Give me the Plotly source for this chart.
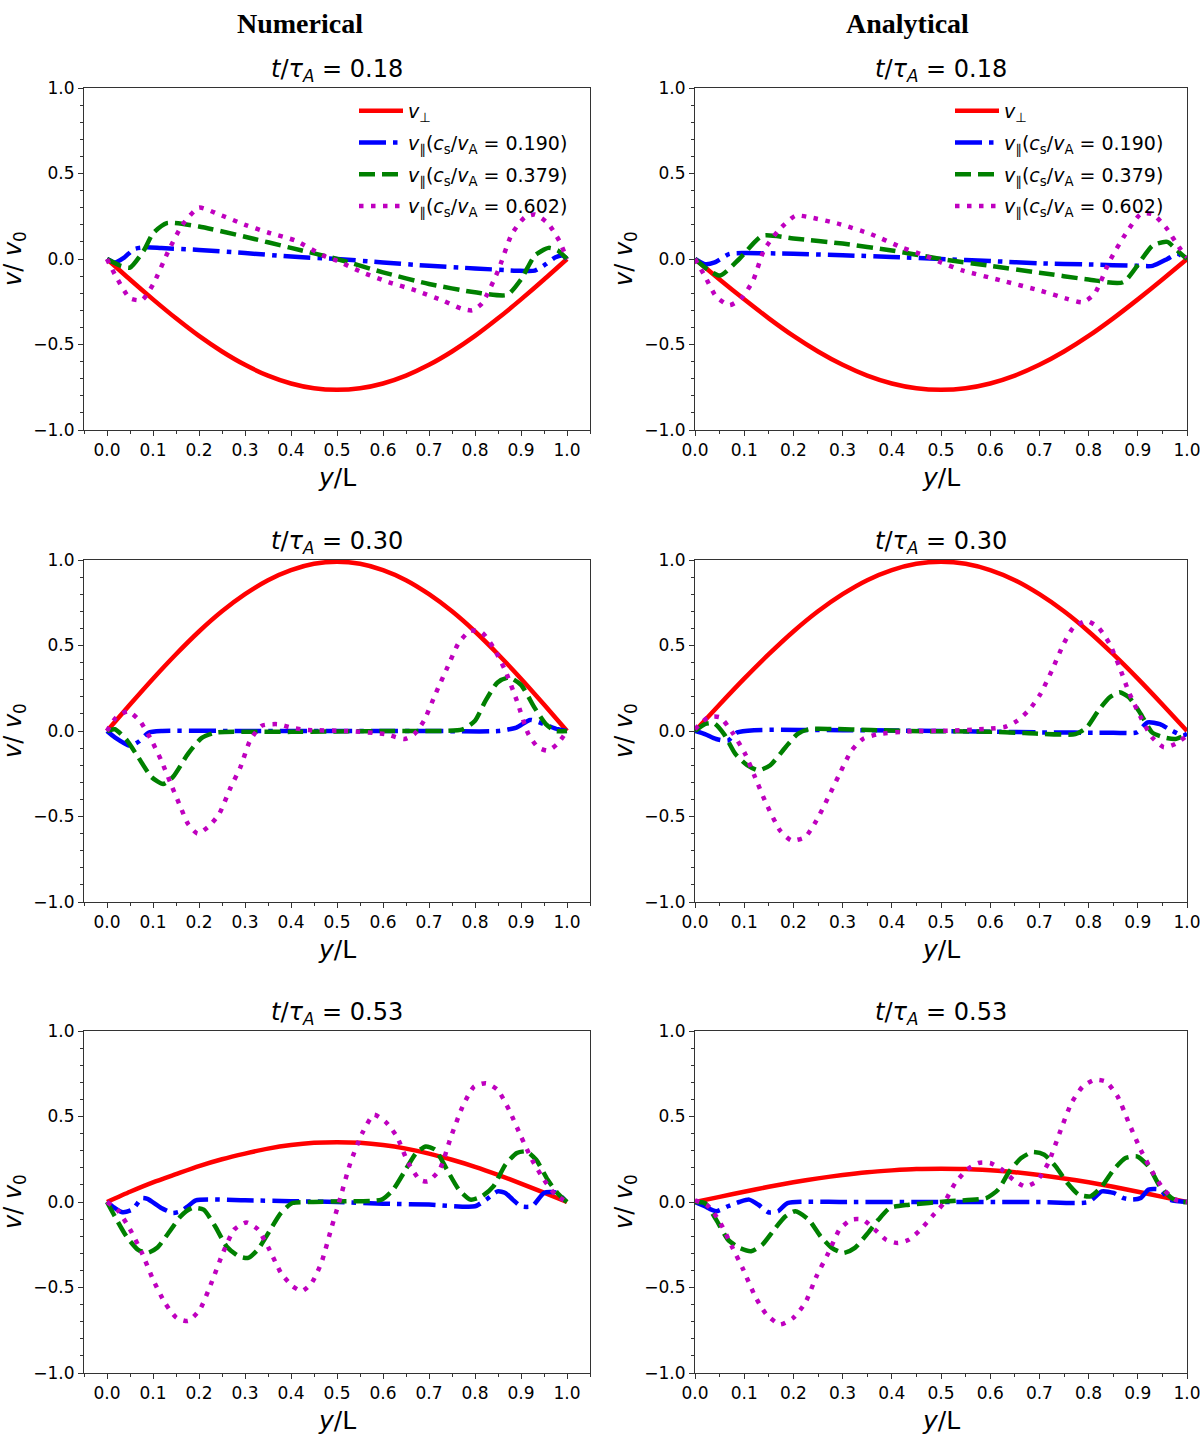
import plotly.graph_objects as go

# ---- valeurs (y/L -> v/v0) ----

# v_perp : grille commune 0.05
X_PERP = [0.0, 0.05, 0.1, 0.15, 0.2, 0.25, 0.3, 0.35, 0.4, 0.45, 0.5,
          0.55, 0.6, 0.65, 0.7, 0.75, 0.8, 0.85, 0.9, 0.95, 1.0]
PERP_018 = [0.0, -0.12, -0.236, -0.347, -0.45, -0.541, -0.619, -0.682, -0.728, -0.756, -0.765,
            -0.756, -0.728, -0.682, -0.619, -0.541, -0.45, -0.347, -0.236, -0.12, 0.0]
PERP_030 = [0.0, 0.155, 0.306, 0.449, 0.582, 0.70, 0.80, 0.882, 0.941, 0.978, 0.99,
            0.978, 0.941, 0.882, 0.80, 0.70, 0.582, 0.449, 0.306, 0.155, 0.0]
PERP_053_NUM = [0.0, 0.06, 0.115, 0.163, 0.21, 0.25, 0.283, 0.312, 0.333, 0.346, 0.35,
                0.346, 0.333, 0.312, 0.283, 0.247, 0.206, 0.159, 0.108, 0.055, 0.0]
PERP_053_ANA = [0.0, 0.03, 0.06, 0.089, 0.115, 0.138, 0.158, 0.174, 0.185, 0.193, 0.195,
                0.193, 0.185, 0.174, 0.158, 0.138, 0.115, 0.089, 0.06, 0.03, 0.0]

# t = 0.18, numerique
B_X_018N = [0.0, 0.017, 0.038, 0.059, 0.084, 0.118, 0.2, 0.3, 0.4, 0.5, 0.6, 0.7, 0.8, 0.89, 0.93, 0.954, 0.975, 0.99, 1.0]
B_Y_018N = [0.0, -0.02, 0.01, 0.058, 0.068, 0.064, 0.053, 0.035, 0.014, 0.0, -0.02, -0.04, -0.055, -0.068, -0.068, -0.03, 0.01, 0.02, 0.0]
G_X_018N = [0.0, 0.03, 0.05, 0.08, 0.1, 0.13, 0.2, 0.3, 0.4, 0.5, 0.6, 0.7, 0.8, 0.87, 0.9, 0.93, 0.96, 0.98, 1.0]
G_Y_018N = [0.0, -0.04, -0.05, 0.05, 0.15, 0.21, 0.19, 0.13, 0.065, 0.0, -0.078, -0.146, -0.195, -0.21, -0.12, 0.02, 0.065, 0.05, 0.0]
M_X_018N = [0.0, 0.017, 0.05, 0.076, 0.1, 0.134, 0.164, 0.2, 0.244, 0.3, 0.35, 0.41, 0.47, 0.5, 0.555, 0.613,
            0.672, 0.73, 0.77, 0.794, 0.815, 0.85, 0.88, 0.908, 0.93, 0.958, 0.983, 1.0]
M_Y_018N = [0.0, -0.09, -0.23, -0.24, -0.15, 0.05, 0.2, 0.3, 0.26, 0.2, 0.155, 0.107, 0.02, -0.01, -0.078, -0.136,
            -0.185, -0.243, -0.29, -0.30, -0.26, -0.07, 0.146, 0.243, 0.26, 0.21, 0.107, 0.0]

# t = 0.18, analytique
B_X_018A = [0.0, 0.02, 0.04, 0.07, 0.1, 0.2, 0.3, 0.4, 0.5, 0.6, 0.7, 0.8, 0.9, 0.93, 0.96, 0.98, 1.0]
B_Y_018A = [0.0, -0.03, -0.02, 0.03, 0.035, 0.03, 0.022, 0.012, 0.0, -0.012, -0.025, -0.032, -0.04, -0.04, 0.0, 0.03, 0.0]
G_X_018A = [0.0, 0.025, 0.051, 0.09, 0.137, 0.2, 0.3, 0.4, 0.5, 0.6, 0.7, 0.8, 0.87, 0.93, 0.96, 0.98, 1.0]
G_Y_018A = [0.0, -0.06, -0.097, 0.0, 0.136, 0.12, 0.09, 0.05, 0.0, -0.04, -0.08, -0.12, -0.136, 0.078, 0.1, 0.05, 0.0]
M_X_018A = [0.0, 0.02, 0.043, 0.07, 0.094, 0.118, 0.14, 0.169, 0.204, 0.235, 0.294, 0.357, 0.42, 0.467, 0.5, 0.545,
            0.623, 0.702, 0.757, 0.788, 0.812, 0.843, 0.875, 0.906, 0.93, 0.957, 0.984, 1.0]
M_Y_018A = [0.0, -0.1, -0.22, -0.27, -0.23, -0.126, 0.05, 0.165, 0.253, 0.243, 0.204, 0.146, 0.068, 0.02, -0.02, -0.068,
            -0.126, -0.185, -0.233, -0.253, -0.204, -0.01, 0.146, 0.263, 0.263, 0.185, 0.068, 0.01]

# t = 0.30, numerique
B_X_030N = [0.0, 0.017, 0.05, 0.07, 0.09, 0.12, 0.3, 0.5, 0.7, 0.85, 0.89, 0.92, 0.95, 0.98, 1.0]
B_Y_030N = [0.0, -0.037, -0.086, -0.06, -0.01, 0.0, 0.0, 0.0, 0.0, 0.0, 0.02, 0.065, 0.04, 0.01, 0.0]
G_X_030N = [0.0, 0.017, 0.042, 0.067, 0.097, 0.122, 0.143, 0.176, 0.206, 0.235, 0.4, 0.6, 0.773, 0.8, 0.823,
            0.849, 0.874, 0.9, 0.929, 0.954, 0.975, 1.0]
G_Y_030N = [0.0, 0.01, -0.05, -0.15, -0.27, -0.31, -0.27, -0.134, -0.04, -0.01, -0.005, 0.0, 0.01, 0.06, 0.177,
            0.284, 0.313, 0.27, 0.138, 0.04, 0.0, 0.0]
M_X_030N = [0.0, 0.02, 0.046, 0.071, 0.097, 0.118, 0.139, 0.16, 0.176, 0.197, 0.223, 0.244, 0.269, 0.29, 0.311,
            0.336, 0.37, 0.403, 0.437, 0.52, 0.605, 0.647, 0.668, 0.689, 0.714, 0.74, 0.765, 0.79, 0.815, 0.84,
            0.866, 0.891, 0.916, 0.937, 0.958, 0.979, 1.0]
M_Y_030N = [0.0, 0.08, 0.115, 0.06, -0.056, -0.173, -0.31, -0.445, -0.543, -0.6, -0.553, -0.484, -0.329, -0.212, -0.056,
            0.03, 0.04, 0.018, 0.006, 0.0, -0.018, -0.047, -0.018, 0.06, 0.216, 0.372, 0.517, 0.586, 0.576, 0.488,
            0.352, 0.177, -0.018, -0.095, -0.115, -0.076, 0.0]

# t = 0.30, analytique
B_X_030A = [0.0, 0.02, 0.043, 0.067, 0.086, 0.12, 0.3, 0.5, 0.7, 0.85, 0.898, 0.92, 0.945, 0.969, 0.992, 1.0]
B_Y_030A = [0.0, -0.018, -0.047, -0.056, -0.008, 0.005, 0.005, 0.0, -0.008, -0.01, -0.008, 0.05, 0.04, 0.002, -0.027, -0.015]
G_X_030A = [0.0, 0.02, 0.039, 0.059, 0.082, 0.106, 0.129, 0.153, 0.184, 0.208, 0.231, 0.278, 0.357, 0.435, 0.592,
            0.67, 0.773, 0.796, 0.82, 0.843, 0.863, 0.882, 0.906, 0.929, 0.953, 0.976, 1.0]
G_Y_030A = [0.0, 0.04, 0.045, -0.018, -0.134, -0.2, -0.23, -0.2, -0.095, -0.018, 0.01, 0.012, 0.006, 0.0, -0.004,
            -0.012, -0.018, 0.02, 0.12, 0.197, 0.226, 0.197, 0.1, -0.008, -0.037, -0.047, -0.02]
M_X_030A = [0.0, 0.027, 0.051, 0.078, 0.102, 0.122, 0.145, 0.173, 0.196, 0.224, 0.247, 0.271, 0.294, 0.318, 0.341,
            0.373, 0.435, 0.514, 0.592, 0.631, 0.655, 0.678, 0.702, 0.725, 0.749, 0.769, 0.796, 0.82, 0.843, 0.863,
            0.882, 0.906, 0.929, 0.953, 0.976, 1.0]
M_Y_030A = [0.01, 0.08, 0.08, -0.018, -0.134, -0.27, -0.426, -0.582, -0.64, -0.62, -0.523, -0.387, -0.25, -0.115, -0.047,
            -0.018, -0.002, 0.002, 0.012, 0.025, 0.06, 0.12, 0.216, 0.352, 0.508, 0.605, 0.644, 0.605, 0.508, 0.372,
            0.226, 0.08, -0.037, -0.095, -0.076, -0.027]

# t = 0.53, numerique
B_X_053N = [0.0, 0.017, 0.034, 0.055, 0.076, 0.088, 0.118, 0.143, 0.16, 0.176, 0.193, 0.3, 0.4, 0.5, 0.6, 0.7, 0.8,
            0.824, 0.849, 0.866, 0.882, 0.9, 0.924, 0.95, 0.975, 0.996, 1.0]
B_Y_053N = [0.0, -0.035, -0.06, -0.045, 0.023, 0.018, -0.035, -0.064, -0.054, -0.025, 0.01, 0.01, 0.005, 0.0, -0.01,
            -0.015, -0.025, 0.014, 0.062, 0.053, 0.014, -0.025, -0.025, 0.053, 0.056, 0.01, 0.0]
G_X_053N = [0.0, 0.017, 0.042, 0.067, 0.088, 0.109, 0.134, 0.16, 0.185, 0.21, 0.235, 0.26, 0.286, 0.307, 0.328, 0.353,
            0.378, 0.403, 0.437, 0.52, 0.597, 0.622, 0.647, 0.672, 0.693, 0.714, 0.739, 0.765, 0.79, 0.815, 0.84,
            0.866, 0.891, 0.912, 0.933, 0.958, 0.979, 1.0]
G_Y_053N = [0.0, -0.084, -0.2, -0.278, -0.298, -0.268, -0.18, -0.084, -0.035, -0.045, -0.142, -0.26, -0.317, -0.327,
            -0.278, -0.171, -0.064, -0.006, 0.0, 0.004, 0.014, 0.072, 0.179, 0.286, 0.325, 0.305, 0.189, 0.072, 0.014,
            0.033, 0.091, 0.218, 0.286, 0.296, 0.247, 0.13, 0.053, 0.0]
M_X_053N = [0.0, 0.025, 0.05, 0.076, 0.1, 0.126, 0.151, 0.176, 0.202, 0.227, 0.252, 0.277, 0.303, 0.328, 0.353, 0.378,
            0.403, 0.424, 0.445, 0.466, 0.487, 0.504, 0.529, 0.555, 0.58, 0.605, 0.63, 0.655, 0.68, 0.697, 0.723, 0.748,
            0.773, 0.798, 0.824, 0.849, 0.874, 0.9, 0.924, 0.95, 0.975, 1.0]
M_Y_053N = [0.0, -0.054, -0.16, -0.298, -0.453, -0.59, -0.677, -0.696, -0.628, -0.473, -0.298, -0.16, -0.12, -0.16,
            -0.278, -0.414, -0.492, -0.521, -0.473, -0.356, -0.16, -0.006, 0.228, 0.403, 0.51, 0.47, 0.383, 0.228,
            0.13, 0.12, 0.189, 0.383, 0.558, 0.675, 0.695, 0.656, 0.539, 0.383, 0.247, 0.13, 0.043, 0.0]

# t = 0.53, analytique
B_X_053A = [0.0, 0.02, 0.043, 0.067, 0.09, 0.11, 0.129, 0.149, 0.169, 0.188, 0.3, 0.5, 0.7, 0.8, 0.827, 0.851, 0.871,
            0.89, 0.906, 0.922, 0.945, 0.965, 1.0]
B_Y_053A = [0.0, -0.025, -0.054, -0.025, 0.0, 0.014, -0.016, -0.06, -0.054, -0.006, 0.0, 0.0, 0.0, 0.0, 0.062, 0.053,
            0.023, 0.014, 0.023, 0.072, 0.072, 0.014, 0.0]
G_X_053A = [0.0, 0.02, 0.043, 0.067, 0.09, 0.114, 0.137, 0.161, 0.184, 0.204, 0.231, 0.255, 0.278, 0.302, 0.325, 0.349,
            0.373, 0.396, 0.435, 0.514, 0.592, 0.616, 0.639, 0.663, 0.686, 0.71, 0.733, 0.757, 0.78, 0.804, 0.827,
            0.851, 0.875, 0.898, 0.922, 0.945, 0.969, 0.988, 1.0]
G_Y_053A = [0.0, -0.006, -0.103, -0.22, -0.268, -0.288, -0.249, -0.161, -0.084, -0.054, -0.103, -0.2, -0.268, -0.298,
            -0.268, -0.19, -0.103, -0.035, -0.016, 0.004, 0.023, 0.072, 0.179, 0.257, 0.292, 0.276, 0.208, 0.111, 0.043,
            0.033, 0.091, 0.189, 0.257, 0.267, 0.208, 0.091, 0.023, 0.0, 0.0]
M_X_053A = [0.0, 0.027, 0.051, 0.075, 0.098, 0.122, 0.145, 0.173, 0.2, 0.224, 0.247, 0.271, 0.294, 0.318, 0.341, 0.365,
            0.388, 0.412, 0.435, 0.459, 0.482, 0.506, 0.529, 0.553, 0.576, 0.6, 0.624, 0.647, 0.671, 0.694, 0.718, 0.741,
            0.765, 0.788, 0.812, 0.835, 0.859, 0.882, 0.906, 0.929, 0.953, 0.976, 1.0]
M_Y_053A = [0.01, -0.025, -0.12, -0.26, -0.395, -0.55, -0.657, -0.716, -0.677, -0.59, -0.434, -0.298, -0.16, -0.103,
            -0.103, -0.16, -0.22, -0.24, -0.22, -0.16, -0.084, -0.006, 0.111, 0.189, 0.228, 0.228, 0.189, 0.13, 0.091,
            0.12, 0.228, 0.403, 0.578, 0.675, 0.714, 0.704, 0.617, 0.461, 0.305, 0.179, 0.072, 0.014, 0.0]

TIMES = ["0.18", "0.30", "0.53"]
LEGEND_NAMES = [
    "<i>v</i><sub>⊥</sub>",
    "<i>v</i><sub>∥</sub>(<i>c</i><sub>s</sub>/<i>v</i><sub>A</sub> = 0.190)",
    "<i>v</i><sub>∥</sub>(<i>c</i><sub>s</sub>/<i>v</i><sub>A</sub> = 0.379)",
    "<i>v</i><sub>∥</sub>(<i>c</i><sub>s</sub>/<i>v</i><sub>A</sub> = 0.602)",
]

# (rangée, colonne) -> séries
PANELS = {
    (0, 0): (PERP_018, B_X_018N, B_Y_018N, G_X_018N, G_Y_018N, M_X_018N, M_Y_018N),
    (0, 1): (PERP_018, B_X_018A, B_Y_018A, G_X_018A, G_Y_018A, M_X_018A, M_Y_018A),
    (1, 0): (PERP_030, B_X_030N, B_Y_030N, G_X_030N, G_Y_030N, M_X_030N, M_Y_030N),
    (1, 1): (PERP_030, B_X_030A, B_Y_030A, G_X_030A, G_Y_030A, M_X_030A, M_Y_030A),
    (2, 0): (PERP_053_NUM, B_X_053N, B_Y_053N, G_X_053N, G_Y_053N, M_X_053N, M_Y_053N),
    (2, 1): (PERP_053_ANA, B_X_053A, B_Y_053A, G_X_053A, G_Y_053A, M_X_053A, M_Y_053A),
}

W, H = 1200, 1440
COL_PX = [(84, 590), (695, 1187)]
ROW_PX = [(88, 430), (560, 902), (1031, 1373)]
XRANGES = [[-0.05, 1.05], [0.0, 1.0]]

STYLES = [
    dict(color="#ff0000", width=4.5),
    dict(color="#0000ff", width=4.5, dash="27px,7px,4.5px,7px"),
    dict(color="#008000", width=4.5, dash="16px,7px"),
    dict(color="#bf00bf", width=4.5, dash="4.5px,7.5px"),
]

FONT = "DejaVu Sans"
AX_COLOR = "#333333"

fig = go.Figure()
layout = dict()
annotations = []

for (r, c), series in PANELS.items():
    idx = r * 2 + c + 1
    xa = "x" if idx == 1 else f"x{idx}"
    ya = "y" if idx == 1 else f"y{idx}"
    perp, bx, by, gx, gy, mx, my = series
    xs = [X_PERP, bx, gx, mx]
    ys = [perp, by, gy, my]
    legend_name = None
    if r == 0:
        legend_name = "legend" if c == 0 else "legend2"
    for k in range(4):
        fig.add_trace(go.Scatter(
            x=xs[k], y=ys[k], mode="lines",
            line=dict(**STYLES[k], shape="spline", smoothing=0.6),
            name=LEGEND_NAMES[k],
            legendgroup=f"g{idx}_{k}",
            showlegend=legend_name is not None,
            legend=legend_name if legend_name else "legend",
            xaxis=xa, yaxis=ya,
        ))

    x0, x1 = COL_PX[c]
    y0, y1 = ROW_PX[r]
    common = dict(
        showline=True, mirror=True, linecolor=AX_COLOR, linewidth=1,
        ticks="outside", ticklen=5, tickwidth=1, tickcolor=AX_COLOR,
        showgrid=False, zeroline=False, automargin=False,
        ticklabeloverflow="allow",
        tickfont=dict(family=FONT, size=17, color="black"),
        tickformat=".1f",
    )
    layout[f"xaxis{idx}"] = dict(
        domain=[x0 / W, x1 / W], anchor=ya, range=XRANGES[c],
        tickmode="linear", tick0=0, dtick=0.1,
        minor=dict(ticks="outside", ticklen=3, dtick=0.05, tickcolor=AX_COLOR),
        **common,
    )
    layout[f"yaxis{idx}"] = dict(
        domain=[1 - y1 / H, 1 - y0 / H], anchor=xa, range=[-1.0, 1.0],
        tickmode="linear", tick0=-1.0, dtick=0.5,
        minor=dict(ticks="outside", ticklen=3, dtick=0.1, tickcolor=AX_COLOR),
        **common,
    )

    xc = (x0 + x1) / 2
    # titre du panneau
    annotations.append(dict(
        text=f"<i>t</i>/<i>τ<sub>A</sub></i> = {TIMES[r]}",
        x=xc / W, y=1 - (y0 - 18) / H, xref="paper", yref="paper",
        xanchor="center", yanchor="middle", showarrow=False,
        font=dict(family=FONT, size=24, color="black"),
    ))
    # titre axe x
    annotations.append(dict(
        text="<i>y</i>/L",
        x=xc / W, y=1 - (y1 + 47) / H, xref="paper", yref="paper",
        xanchor="center", yanchor="middle", showarrow=False,
        font=dict(family=FONT, size=25, color="black"),
    ))
    # titre axe y
    annotations.append(dict(
        text="<i>v</i>/ <i>v</i><sub>0</sub>",
        x=(x0 - 70) / W, y=1 - (y0 + y1) / 2 / H, xref="paper", yref="paper",
        xanchor="center", yanchor="middle", showarrow=False, textangle=-90,
        font=dict(family=FONT, size=24, color="black"),
    ))

for label, px in [("Numerical", 300), ("Analytical", 907)]:
    annotations.append(dict(
        text=f"<b>{label}</b>", x=px / W, y=1 - 23 / H, xref="paper", yref="paper",
        xanchor="center", yanchor="middle", showarrow=False,
        font=dict(family="Liberation Serif", size=28, color="black"),
    ))

legend_common = dict(
    xanchor="left", yanchor="top", bgcolor="rgba(255,255,255,0)",
    borderwidth=0, font=dict(family=FONT, size=19, color="black"),
    tracegroupgap=4, itemwidth=44,
)

fig.update_layout(
    width=W, height=H,
    margin=dict(l=0, r=0, t=0, b=0, autoexpand=False),
    paper_bgcolor="white", plot_bgcolor="white",
    annotations=annotations,
    legend=dict(x=354 / W, y=1 - 92 / H, **legend_common),
    legend2=dict(x=950 / W, y=1 - 92 / H, **legend_common),
    **layout,
)

# pas de marge autour de la figure dans la page
fig.write_html("out.html", config={"displayModeBar": False},
               post_script="document.body.style.margin='0';")
